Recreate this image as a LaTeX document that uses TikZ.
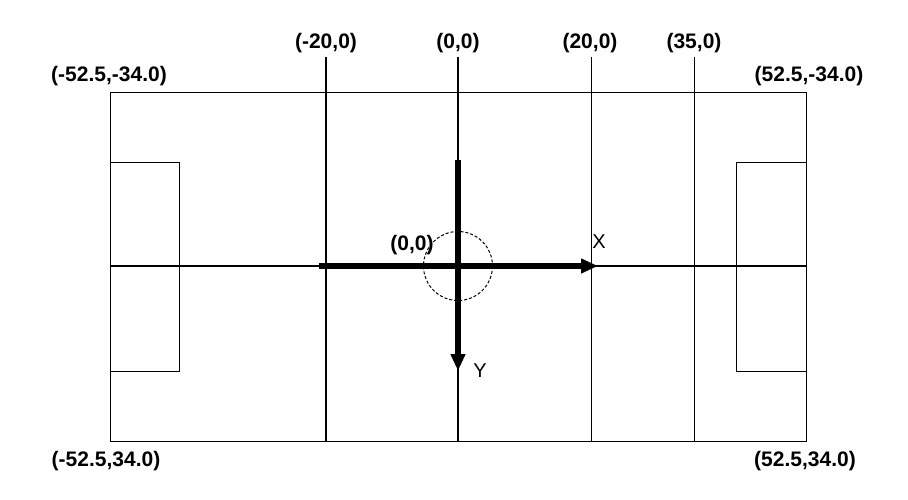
\documentclass[tikz,border=0pt]{standalone}
\usepackage{fontspec}
\setmainfont{Liberation Sans}
\usetikzlibrary{arrows.meta}
\begin{document}
\begin{tikzpicture}[x=1pt,y=-1pt,
  field/.style={line width=1.4pt,black},
  axis/.style={line width=5.5pt,-{Triangle[length=17pt,width=14pt]}},
  coord/.style={font=\fontsize{21}{23}\selectfont\bfseries,inner sep=0pt},
  axlab/.style={font=\fontsize{20}{22}\selectfont,inner sep=0pt}]
\useasboundingbox (0,0) rectangle (908,500);
% field
\draw[field] (110.7,92.3) rectangle (806.3,441.7);
\draw[field] (110.7,266) -- (806.3,266);
\draw[field] (110.7,162.3) -| (179.3,371.7) -- (110.7,371.7);
\draw[field] (806.3,162.3) -| (736.3,371.7) -- (806.3,371.7);
\foreach \x/\n in {326/m20,458/z,591.3/p20,694.7/p35}{
  \coordinate (top\n) at (\x,57);
  \draw[field] (top\n) -- (\x,441.7);
}
% centre circle
\draw[line width=1pt,dash pattern=on 3pt off 2pt] (458,266) circle (34.5);
% axes
\coordinate (xs) at (319,266);
\coordinate (xe) at (598,266);
\coordinate (ys) at (458,160);
\coordinate (ye) at (458,371);
\draw[axis] (xs) -- (xe);
\draw[axis] (ys) -- (ye);
% labels
\node[coord] (lm20) at (326,43) {(-20,0)};
\node[coord] (lz) at (458,43) {(0,0)};
\node[coord] (lp20) at (590,43) {(20,0)};
\node[coord] (lp35) at (694,43) {(35,0)};
\node[coord] (tl) at (109,76) {(-52.5,-34.0)};
\node[coord] (tr) at (809,76) {(52.5,-34.0)};
\node[coord] (bl) at (106,461) {(-52.5,34.0)};
\node[coord] (br) at (805,461) {(52.5,34.0)};
\node[coord] (origin) at (412,245) {(0,0)};
\node[axlab] (xl) at (599,242) {X};
\node[axlab] (yl) at (480,371) {Y};
\end{tikzpicture}
\end{document}
